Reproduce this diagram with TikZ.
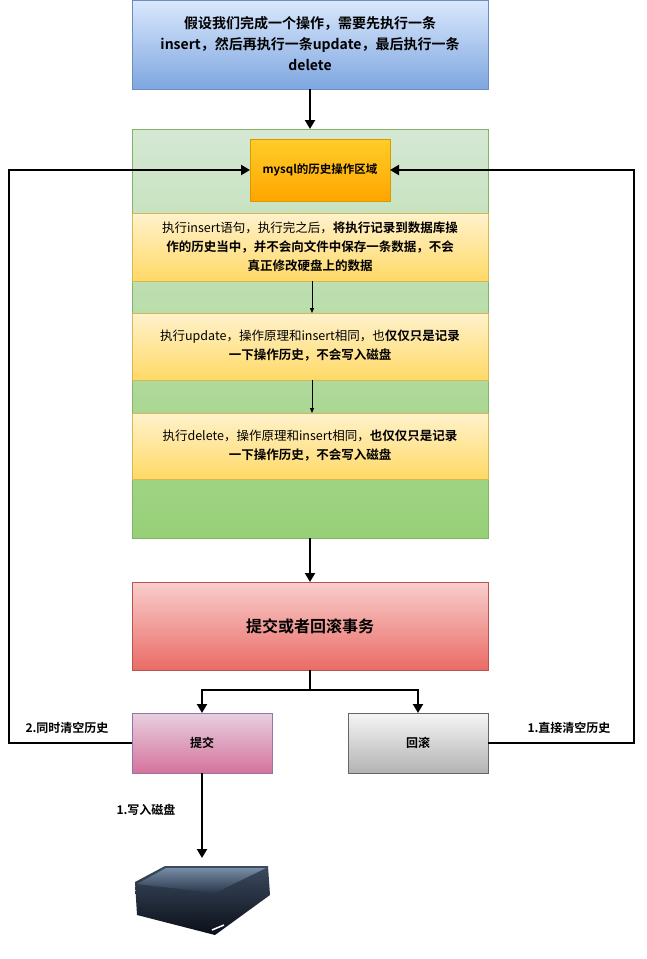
\documentclass[tikz,border=0pt]{standalone}
\usepackage{fontspec}
\setmainfont{Noto Sans CJK SC}[BoldFont={Noto Sans CJK SC Bold}]
\usetikzlibrary{arrows.meta}
\begin{document}
\begin{tikzpicture}[x=1pt,y=-1pt,
 big/.style={line width=2.2pt,-{Triangle[length=9pt,width=10pt]}},
 thin/.style={line width=0.8pt,-{Triangle[length=5pt,width=4pt]}},
 txt/.style={align=center,font=\fontsize{12.5}{19}\selectfont},
 lbl/.style={font=\fontsize{12}{14}\selectfont\bfseries}]
\useasboundingbox (0,0) rectangle (646,959);
% top
\shade[top color={rgb,255:red,218;green,232;blue,252},bottom color={rgb,255:red,126;green,166;blue,224}] (132,0) rectangle (488,89);
\draw[draw={rgb,255:red,108;green,142;blue,191},line width=0.6pt] (132,0) rectangle (488,89);
\node[align=center,font=\fontsize{14}{21}\selectfont\bfseries] (top) at (310,44) {假设我们完成一个操作，需要先执行一条\\insert，然后再执行一条update，最后执行一条\\delete};
% green
\shade[top color={rgb,255:red,213;green,232;blue,212},bottom color={rgb,255:red,151;green,208;blue,119}] (132,129) rectangle (488,538);
\draw[draw={rgb,255:red,130;green,179;blue,102},line width=0.6pt] (132,129) rectangle (488,538);
\coordinate (gtop) at (310,129); \coordinate (gbot) at (310,538);
% orange
\shade[top color={rgb,255:red,255;green,205;blue,40},bottom color={rgb,255:red,255;green,165;blue,0}] (250,139) rectangle (390,201);
\draw[draw={rgb,255:red,215;green,155;blue,0},line width=0.6pt] (250,139) rectangle (390,201);
\node[font=\fontsize{11.5}{14}\selectfont\bfseries] (hist) at (320,170) {mysql的历史操作区域};
\coordinate (hl) at (250,170); \coordinate (hr) at (390,170);
% bands
\foreach \a/\b/\n in {213/281/b1,313/380/b2,413/479/b3}{
 \shade[top color={rgb,255:red,255;green,242;blue,204},bottom color={rgb,255:red,255;green,217;blue,102}] (132,\a) rectangle (488,\b);
 \draw[draw={rgb,255:red,214;green,182;blue,86},line width=0.6pt] (132,\a) rectangle (488,\b);
 \coordinate (\n t) at (312,\a); \coordinate (\n b) at (312,\b);}
\node[txt] (t1) at (310,247) {执行insert语句，执行完之后，\textbf{将执行记录到数据库操}\\\textbf{作的历史当中，并不会向文件中保存一条数据，不会}\\\textbf{真正修改硬盘上的数据}};
\node[txt] (t2) at (310,346) {执行update，操作原理和insert相同，也\textbf{仅仅只是记录}\\\textbf{一下操作历史，不会写入磁盘}};
\node[txt] (t3) at (310,446) {执行delete，操作原理和insert相同，\textbf{也仅仅只是记录}\\\textbf{一下操作历史，不会写入磁盘}};
\draw[thin] (b1b) -- (b2t);
\draw[thin] (b2b) -- (b3t);
% red
\shade[top color={rgb,255:red,248;green,206;blue,204},bottom color={rgb,255:red,234;green,107;blue,102}] (132,582) rectangle (488,670);
\draw[draw={rgb,255:red,184;green,84;blue,80},line width=0.6pt] (132,582) rectangle (488,670);
\node[font=\fontsize{16}{18}\selectfont\bfseries] (red) at (310,626) {提交或者回滚事务};
\coordinate (rtop) at (310,582); \coordinate (rbot) at (310,670);
% commit / rollback
\shade[top color={rgb,255:red,230;green,208;blue,222},bottom color={rgb,255:red,213;green,115;blue,157}] (132,713) rectangle (272,773);
\draw[draw={rgb,255:red,150;green,115;blue,166},line width=0.6pt] (132,713) rectangle (272,773);
\node[lbl] (commit) at (202,743) {提交};
\shade[top color={rgb,255:red,245;green,245;blue,245},bottom color={rgb,255:red,179;green,179;blue,179}] (348,713) rectangle (488,773);
\draw[draw={rgb,255:red,102;green,102;blue,102},line width=0.6pt] (348,713) rectangle (488,773);
\node[lbl] (roll) at (418,743) {回滚};
\coordinate (ct) at (202,713); \coordinate (cb) at (202,773); \coordinate (cl) at (132,743);
\coordinate (rt) at (418,713); \coordinate (rr) at (488,743);
% arrows
\coordinate (topb) at (310,89);
\draw[big] (topb) -- (gtop);
\draw[big] (gbot) -- (rtop);
\draw[line width=2.2pt] (rbot) -- (310,690);
\draw[big] (310,690) -| (ct);
\draw[big] (310,690) -| (rt);
\draw[big] (cl) -- (9,743) |- (hl);
\draw[big] (rr) -- (634,743) |- (hr);
\node[lbl] (l1) at (67,728) {2.同时清空历史};
\node[lbl] (l2) at (569,728) {1.直接清空历史};
\coordinate (disk) at (202,858);
\draw[big] (cb) -- (disk);
\node[lbl] (l3) at (146,810) {1.写入磁盘};
% disk icon
\shade[top color={rgb,255:red,60;green,75;blue,95},bottom color={rgb,255:red,10;green,15;blue,25}] (135,882) -- (165,866) -- (268,866) -- (270,895) -- (215,935) -- (137,915) -- cycle;
\shade[top color={rgb,255:red,120;green,140;blue,165},bottom color={rgb,255:red,40;green,55;blue,75}] (137,884) -- (166,868) -- (266,868) -- (215,893) -- cycle;
\draw[white,line width=1.5pt] (212,930) -- (224,925);
\end{tikzpicture}
\end{document}
